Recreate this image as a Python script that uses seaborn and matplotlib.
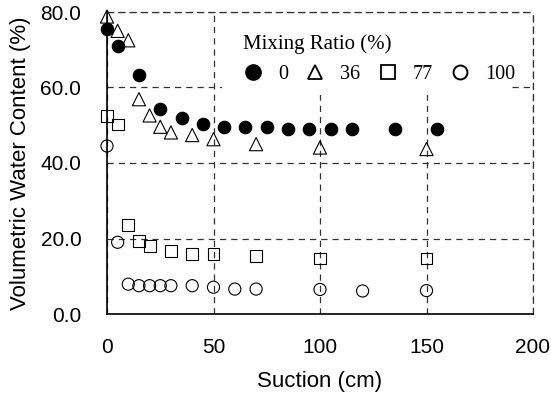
import matplotlib
matplotlib.use("Agg")
import matplotlib.pyplot as plt
from matplotlib.lines import Line2D
from matplotlib.patches import Rectangle
import seaborn as sns
import pandas as pd

# ---- data ----
x_r0 = [0, 5, 15, 25, 35, 45, 55, 65, 75, 85, 95, 105, 115, 135, 155]
y_r0 = [75.6, 71.0, 63.2, 54.2, 51.9, 50.4, 49.5, 49.5, 49.5, 49.1, 49.1, 49.1, 49.1, 49.1, 49.1]

x_r36 = [0, 5, 10, 15, 20, 25, 30, 40, 50, 70, 100, 150]
y_r36 = [78.8, 75.0, 72.5, 56.9, 52.6, 49.6, 48.1, 47.4, 46.3, 45.0, 44.1, 43.7]

x_r77 = [0, 5, 10, 15, 20, 30, 40, 50, 70, 100, 150]
y_r77 = [52.4, 50.2, 23.5, 19.4, 18.1, 16.7, 15.8, 15.8, 15.3, 14.7, 14.7]

x_r100 = [0, 5, 10, 15, 20, 25, 30, 40, 50, 60, 70, 100, 120, 150]
y_r100 = [44.5, 19.0, 7.9, 7.5, 7.5, 7.5, 7.5, 7.5, 7.1, 6.6, 6.6, 6.5, 6.1, 6.2]

ratio_labels = ["0", "36", "77", "100"]
x_ticks = [0, 50, 100, 150, 200]
y_ticks = [0, 20, 40, 60, 80]
x_title = "Suction (cm)"
y_title = "Volumetric Water Content (%)"
legend_title = "Mixing Ratio (%)"

# ---- figure ----
sns.set_style("white")
plt.rcParams["font.family"] = ["Liberation Sans", "DejaVu Sans"]
plt.rcParams["text.color"] = "black"
plt.rcParams["axes.labelcolor"] = "black"
plt.rcParams["xtick.color"] = "black"
plt.rcParams["ytick.color"] = "black"

fig = plt.figure(figsize=(5.51, 3.96), dpi=100)
ax = fig.add_axes([107 / 551, 1 - 314 / 396, 426 / 551, 302 / 396])

series = [
    (x_r0, y_r0, "o", 81, "black"),
    (x_r36, y_r36, "^", 90, "none"),
    (x_r77, y_r77, "s", 74, "none"),
    (x_r100, y_r100, "o", 76, "none"),
]
for (xs, ys, mk, sz, fc), lab in zip(series, ratio_labels):
    df = pd.DataFrame({"suction": xs, "vwc": ys})
    sns.scatterplot(data=df, x="suction", y="vwc", ax=ax, marker=mk, s=sz,
                    facecolor=fc, edgecolor="black", linewidth=0.8,
                    clip_on=False, zorder=3, legend=False)

ax.set_xlim(0, 200)
ax.set_ylim(0, 80)
ax.set_xticks(x_ticks)
ax.set_yticks(y_ticks)
ax.set_xticklabels([str(v) for v in x_ticks], fontsize=15)
ax.set_yticklabels([f"{v:.1f}" for v in y_ticks], fontsize=15)
ax.tick_params(axis="x", length=0, pad=17, labelcolor="black")
ax.tick_params(axis="y", length=0, pad=18.5, labelcolor="black")
ax.set_xlabel(x_title, fontsize=16, labelpad=10, color="black")
ax.set_ylabel(y_title, fontsize=16, labelpad=7, color="black")

ax.set_axisbelow(True)
ax.grid(True, color="#333333", linestyle=(0, (5, 4)), linewidth=0.9)
for side in ["left", "bottom"]:
    ax.spines[side].set_color("black")
    ax.spines[side].set_linewidth(1.2)
for side in ["top", "right"]:
    ax.spines[side].set_color("#333333")
    ax.spines[side].set_linewidth(0.9)
    ax.spines[side].set_linestyle((0, (5, 4)))

# white box behind the legend (hides gridlines)
ax.add_patch(Rectangle((0.270, 0.725), 0.674, 0.27, transform=ax.transAxes,
                       facecolor="white", edgecolor="none", zorder=1.5))

handles = [
    Line2D([], [], linestyle="none", marker="o", markersize=11,
           markerfacecolor="black", markeredgecolor="black"),
    Line2D([], [], linestyle="none", marker="^", markersize=9.5,
           markerfacecolor="none", markeredgecolor="black", markeredgewidth=1.3),
    Line2D([], [], linestyle="none", marker="s", markersize=10,
           markerfacecolor="none", markeredgecolor="black", markeredgewidth=1.3),
    Line2D([], [], linestyle="none", marker="o", markersize=10,
           markerfacecolor="none", markeredgecolor="black", markeredgewidth=1.4),
]
leg = ax.legend(handles, ratio_labels, title=legend_title, ncol=4,
                loc="upper left", bbox_to_anchor=(0.319, 0.925),
                frameon=False, borderpad=0, borderaxespad=0,
                handlelength=1.0, handletextpad=0.75, columnspacing=0.85,
                alignment="left",
                prop={"family": ["Liberation Serif"], "size": 14.5},
                title_fontproperties={"family": ["Liberation Serif"], "size": 15})
leg.set_zorder(4)
for t in leg.get_texts():
    t.set_color("black")
leg.get_title().set_color("black")

fig.savefig("out.png", dpi=100)
